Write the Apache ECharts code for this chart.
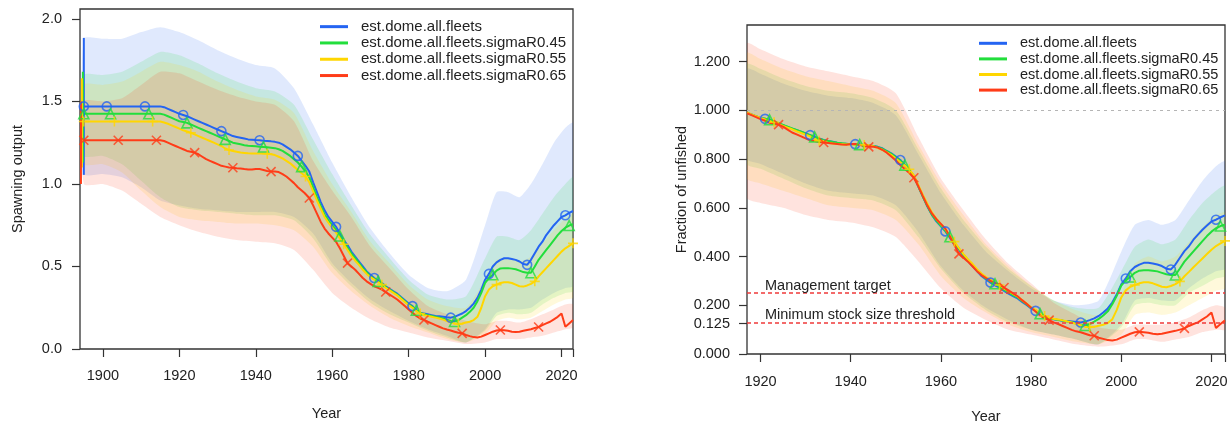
<!DOCTYPE html>
<html><head><meta charset="utf-8">
<script src="https://cdn.jsdelivr.net/npm/echarts@6/dist/echarts.min.js"></script>
<style>html,body{margin:0;padding:0;background:#fff}#c{width:1230px;height:423px}</style>
</head><body><div id="c"></div>
<script>
// ---------------- DATA ----------------
const modelNames = ['est.dome.all.fleets','est.dome.all.fleets.sigmaR0.45','est.dome.all.fleets.sigmaR0.55','est.dome.all.fleets.sigmaR0.65'];

const leftFirstYear = 1895, leftLastYear = 2023;
const rightFirstYear = 1917, rightLastYear = 2023;

// Spawning output, yearly 1895-2023
const ssbBlue = [1.47,1.47,1.47,1.47,1.47,1.47,1.47,1.47,1.47,1.47,
1.47,1.47,1.47,1.47,1.47,1.47,1.47,1.47,1.47,1.47,
1.47,1.465,1.455,1.445,1.435,1.425,1.418,1.41,1.40,1.39,
1.38,1.37,1.36,1.35,1.34,1.33,1.32,1.31,1.30,1.29,
1.285,1.28,1.275,1.27,1.268,1.266,1.265,1.262,1.26,1.258,
1.255,1.25,1.24,1.225,1.21,1.19,1.17,1.14,1.11,1.075,
1.01,0.95,0.89,0.84,0.80,0.77,0.74,0.70,0.66,0.63,
0.59,0.56,0.53,0.50,0.47,0.45,0.43,0.415,0.40,0.38,
0.365,0.35,0.335,0.315,0.295,0.275,0.26,0.235,0.22,0.215,
0.21,0.205,0.20,0.198,0.195,0.192,0.19,0.195,0.205,0.215,
0.23,0.25,0.275,0.31,0.36,0.42,0.455,0.50,0.525,0.54,
0.55,0.55,0.545,0.54,0.53,0.515,0.51,0.54,0.58,0.62,
0.65,0.69,0.72,0.75,0.775,0.80,0.81,0.825,0.836];
const ssbGreen = [1.425,1.425,1.425,1.425,1.425,1.425,1.425,1.425,1.425,1.425,
1.425,1.425,1.425,1.425,1.425,1.425,1.425,1.425,1.425,1.425,
1.425,1.42,1.41,1.40,1.39,1.38,1.375,1.37,1.36,1.35,
1.34,1.33,1.32,1.31,1.30,1.29,1.28,1.27,1.26,1.25,
1.245,1.24,1.235,1.232,1.23,1.228,1.226,1.224,1.222,1.22,
1.217,1.21,1.20,1.185,1.17,1.15,1.13,1.105,1.075,1.04,
0.98,0.92,0.865,0.815,0.78,0.75,0.72,0.685,0.65,0.615,
0.58,0.55,0.52,0.49,0.465,0.44,0.425,0.41,0.395,0.375,
0.36,0.345,0.33,0.31,0.29,0.27,0.255,0.235,0.22,0.21,
0.205,0.20,0.195,0.19,0.185,0.178,0.17,0.167,0.175,0.19,
0.205,0.225,0.25,0.29,0.34,0.40,0.43,0.45,0.475,0.488,
0.49,0.49,0.487,0.483,0.475,0.466,0.462,0.462,0.50,0.54,
0.57,0.60,0.63,0.66,0.69,0.715,0.735,0.748,0.757];
const ssbYellow = [1.378,1.378,1.378,1.378,1.378,1.378,1.378,1.378,1.378,1.378,
1.378,1.378,1.378,1.378,1.378,1.378,1.378,1.378,1.378,1.378,
1.378,1.372,1.365,1.355,1.345,1.335,1.325,1.318,1.31,1.30,
1.29,1.28,1.27,1.26,1.25,1.24,1.23,1.215,1.206,1.20,
1.195,1.19,1.188,1.186,1.185,1.185,1.185,1.185,1.183,1.18,
1.175,1.165,1.155,1.14,1.125,1.105,1.085,1.065,1.045,1.01,
0.955,0.90,0.85,0.80,0.765,0.735,0.705,0.67,0.635,0.60,
0.565,0.535,0.51,0.48,0.455,0.435,0.42,0.405,0.39,0.37,
0.355,0.34,0.325,0.305,0.285,0.265,0.25,0.23,0.215,0.205,
0.20,0.195,0.19,0.185,0.178,0.17,0.162,0.155,0.152,0.155,
0.16,0.165,0.175,0.195,0.25,0.32,0.36,0.38,0.39,0.40,
0.405,0.405,0.40,0.39,0.38,0.378,0.385,0.395,0.41,0.44,
0.465,0.49,0.515,0.54,0.565,0.59,0.61,0.625,0.64];
const ssbRed = [1.265,1.265,1.265,1.265,1.265,1.265,1.265,1.265,1.265,1.265,
1.265,1.265,1.265,1.265,1.265,1.265,1.265,1.265,1.265,1.265,
1.265,1.26,1.25,1.24,1.23,1.22,1.21,1.20,1.195,1.19,
1.18,1.165,1.15,1.14,1.13,1.12,1.11,1.105,1.10,1.098,
1.095,1.093,1.09,1.088,1.087,1.09,1.09,1.085,1.078,1.075,
1.075,1.072,1.06,1.045,1.025,1.005,0.98,0.96,0.94,0.915,
0.87,0.82,0.77,0.73,0.70,0.675,0.65,0.61,0.565,0.52,
0.50,0.48,0.455,0.43,0.41,0.395,0.38,0.37,0.36,0.345,
0.33,0.315,0.30,0.28,0.26,0.24,0.22,0.20,0.185,0.176,
0.165,0.155,0.145,0.135,0.125,0.118,0.112,0.105,0.098,0.095,
0.085,0.078,0.072,0.07,0.075,0.085,0.095,0.105,0.112,0.115,
0.113,0.11,0.105,0.103,0.105,0.11,0.115,0.12,0.127,0.133,
0.145,0.155,0.165,0.18,0.195,0.215,0.135,0.155,0.175];

// Virgin spawning output intervals (error bars at the start)
const b0Year = [1895, 1894.75, 1894.5, 1894.25];
const b0Lo = [1.055, 1.13, 1.10, 1.00];
const b0Hi = [1.885, 1.68, 1.64, 1.50];

// Spawning output 95% intervals
const leftBandYears = [1895,1900,1905,1910,1915,1920,1925,1930,1935,1940,1945,1950,1955,1960,1965,1970,1975,1980,1985,1990,1995,2000,2003,2006,2009,2012,2015,2018,2021,2023];
const ssbHiBlue   = [1.88,1.88,1.88,1.92,1.95,1.92,1.87,1.81,1.76,1.72,1.70,1.58,1.36,1.13,0.92,0.73,0.58,0.45,0.37,0.35,0.42,0.75,0.95,0.95,0.92,1.00,1.12,1.25,1.34,1.37];
const ssbHiGreen  = [1.66,1.66,1.68,1.74,1.80,1.78,1.73,1.67,1.62,1.58,1.56,1.48,1.27,1.06,0.87,0.69,0.55,0.42,0.33,0.30,0.32,0.55,0.68,0.68,0.66,0.72,0.82,0.92,1.00,1.04];
const ssbHiYellow = [1.60,1.60,1.62,1.68,1.74,1.72,1.68,1.62,1.57,1.53,1.51,1.43,1.20,1.00,0.83,0.65,0.52,0.39,0.30,0.26,0.25,0.42,0.54,0.55,0.53,0.56,0.64,0.72,0.79,0.82];
const ssbHiRed    = [1.50,1.50,1.52,1.60,1.68,1.67,1.62,1.57,1.53,1.50,1.48,1.38,1.14,0.96,0.80,0.62,0.49,0.36,0.26,0.21,0.17,0.15,0.17,0.17,0.16,0.18,0.21,0.24,0.27,0.27];
const ssbLoBlue   = [1.06,1.06,1.04,0.98,0.90,0.87,0.85,0.84,0.83,0.83,0.83,0.80,0.70,0.52,0.40,0.30,0.23,0.17,0.12,0.08,0.04,0.12,0.22,0.24,0.24,0.25,0.30,0.34,0.37,0.38];
const ssbLoGreen  = [1.17,1.17,1.12,1.02,0.92,0.86,0.84,0.83,0.82,0.81,0.81,0.78,0.67,0.50,0.38,0.28,0.21,0.16,0.11,0.07,0.04,0.11,0.20,0.22,0.21,0.22,0.27,0.31,0.34,0.35];
const ssbLoYellow = [1.12,1.12,1.07,0.96,0.86,0.80,0.78,0.77,0.76,0.76,0.75,0.72,0.62,0.46,0.35,0.26,0.19,0.14,0.10,0.06,0.04,0.09,0.17,0.19,0.18,0.19,0.23,0.27,0.30,0.31];
const ssbLoRed    = [1.00,1.00,0.96,0.88,0.80,0.75,0.71,0.68,0.66,0.65,0.64,0.60,0.48,0.34,0.25,0.18,0.13,0.10,0.07,0.05,0.03,0.04,0.06,0.06,0.06,0.07,0.08,0.10,0.12,0.13];

// Fraction of unfished, yearly 1917-2023
const fracBlue = [0.990,0.983,0.976,0.969,0.965,0.959,0.952,0.946,0.939,0.932,
0.925,0.918,0.912,0.905,0.898,0.891,0.884,0.878,0.874,0.871,
0.867,0.864,0.863,0.861,0.861,0.859,0.857,0.856,0.854,0.850,
0.844,0.833,0.823,0.810,0.796,0.776,0.755,0.731,0.687,0.646,
0.605,0.571,0.544,0.524,0.503,0.476,0.449,0.429,0.401,0.381,
0.361,0.340,0.320,0.306,0.293,0.282,0.272,0.259,0.248,0.238,
0.228,0.214,0.201,0.187,0.177,0.160,0.150,0.146,0.143,0.139,
0.136,0.135,0.133,0.131,0.129,0.133,0.139,0.146,0.156,0.170,
0.187,0.211,0.245,0.286,0.310,0.340,0.357,0.367,0.374,0.374,
0.371,0.367,0.361,0.350,0.347,0.367,0.395,0.422,0.442,0.469,
0.490,0.510,0.527,0.544,0.551,0.561,0.569];
const fracGreen = [0.989,0.982,0.975,0.968,0.965,0.961,0.954,0.947,0.940,0.933,
0.926,0.919,0.912,0.905,0.898,0.891,0.884,0.877,0.874,0.870,
0.867,0.865,0.863,0.862,0.860,0.859,0.858,0.856,0.854,0.849,
0.842,0.832,0.821,0.807,0.793,0.775,0.754,0.730,0.688,0.646,
0.607,0.572,0.547,0.526,0.505,0.481,0.456,0.432,0.407,0.386,
0.365,0.344,0.326,0.309,0.298,0.288,0.277,0.263,0.253,0.242,
0.232,0.218,0.204,0.189,0.179,0.165,0.154,0.147,0.144,0.140,
0.137,0.133,0.130,0.125,0.119,0.117,0.123,0.133,0.144,0.158,
0.175,0.204,0.239,0.281,0.302,0.316,0.333,0.342,0.344,0.344,
0.342,0.339,0.333,0.327,0.324,0.324,0.351,0.379,0.400,0.421,
0.442,0.463,0.484,0.502,0.516,0.525,0.531];
const fracYellow = [0.991,0.983,0.976,0.969,0.962,0.956,0.951,0.943,0.936,0.929,
0.922,0.914,0.907,0.900,0.893,0.882,0.875,0.871,0.867,0.864,
0.862,0.861,0.860,0.860,0.860,0.860,0.858,0.856,0.853,0.845,
0.838,0.827,0.816,0.802,0.787,0.773,0.758,0.733,0.693,0.653,
0.617,0.581,0.555,0.533,0.512,0.486,0.461,0.435,0.410,0.388,
0.370,0.348,0.330,0.316,0.305,0.294,0.283,0.269,0.258,0.247,
0.236,0.221,0.207,0.192,0.181,0.167,0.156,0.149,0.145,0.142,
0.138,0.134,0.129,0.123,0.118,0.112,0.110,0.112,0.116,0.120,
0.127,0.142,0.181,0.232,0.261,0.276,0.283,0.290,0.294,0.294,
0.290,0.283,0.276,0.274,0.279,0.287,0.298,0.319,0.337,0.356,
0.374,0.392,0.410,0.428,0.443,0.454,0.464];
const fracRed = [0.988,0.980,0.972,0.964,0.957,0.949,0.945,0.941,0.933,0.921,
0.909,0.901,0.893,0.885,0.877,0.874,0.870,0.868,0.866,0.864,
0.862,0.860,0.859,0.862,0.862,0.858,0.852,0.850,0.850,0.847,
0.838,0.826,0.810,0.794,0.775,0.759,0.743,0.723,0.688,0.648,
0.609,0.577,0.553,0.534,0.514,0.482,0.447,0.411,0.395,0.379,
0.360,0.340,0.324,0.312,0.300,0.292,0.285,0.273,0.261,0.249,
0.237,0.221,0.206,0.190,0.174,0.158,0.146,0.139,0.130,0.123,
0.115,0.107,0.099,0.093,0.089,0.083,0.077,0.075,0.067,0.062,
0.057,0.055,0.059,0.067,0.075,0.083,0.089,0.091,0.089,0.087,
0.083,0.081,0.083,0.087,0.091,0.095,0.100,0.105,0.115,0.123,
0.130,0.142,0.154,0.170,0.107,0.123,0.138];

// Fraction of unfished 95% intervals
const rightBandYears = [1917,1920,1925,1930,1935,1940,1945,1950,1955,1960,1965,1970,1975,1980,1985,1990,1995,2000,2003,2006,2009,2012,2015,2018,2021,2023];
const fracHiBlue   = [1.17,1.15,1.11,1.08,1.06,1.05,1.03,0.98,0.82,0.66,0.53,0.42,0.34,0.27,0.22,0.20,0.22,0.42,0.53,0.55,0.53,0.55,0.63,0.71,0.77,0.79];
const fracHiGreen  = [1.19,1.17,1.13,1.10,1.08,1.07,1.05,1.00,0.84,0.68,0.55,0.44,0.35,0.28,0.22,0.19,0.19,0.34,0.44,0.47,0.45,0.47,0.55,0.62,0.67,0.69];
const fracHiYellow = [1.235,1.21,1.17,1.14,1.12,1.10,1.08,1.03,0.86,0.70,0.57,0.45,0.36,0.28,0.22,0.18,0.16,0.25,0.37,0.40,0.38,0.40,0.46,0.52,0.57,0.58];
const fracHiRed    = [1.275,1.25,1.21,1.18,1.16,1.14,1.12,1.07,0.89,0.72,0.59,0.47,0.37,0.29,0.21,0.16,0.11,0.10,0.12,0.12,0.12,0.13,0.15,0.18,0.20,0.19];
const fracLoBlue   = [0.80,0.78,0.74,0.70,0.67,0.66,0.65,0.61,0.50,0.36,0.26,0.19,0.14,0.10,0.08,0.06,0.04,0.12,0.22,0.23,0.22,0.22,0.27,0.31,0.34,0.35];
const fracLoGreen  = [0.78,0.76,0.72,0.68,0.65,0.64,0.63,0.59,0.48,0.35,0.25,0.18,0.13,0.10,0.08,0.06,0.04,0.11,0.20,0.21,0.20,0.20,0.25,0.28,0.31,0.32];
const fracLoYellow = [0.72,0.70,0.67,0.64,0.61,0.60,0.59,0.55,0.45,0.32,0.23,0.17,0.12,0.09,0.07,0.05,0.04,0.08,0.16,0.17,0.16,0.17,0.20,0.23,0.26,0.27];
const fracLoRed    = [0.64,0.62,0.60,0.57,0.55,0.54,0.52,0.48,0.38,0.27,0.19,0.14,0.10,0.08,0.06,0.04,0.03,0.04,0.06,0.06,0.05,0.06,0.07,0.09,0.10,0.10];

// Reference levels (right panel)
const refLevels = [0.25, 0.125];
const refLabels = ['Management target', 'Minimum stock size threshold'];
const unfishedLevel = 1.0;

// Tick labels
const leftXTicks = [1900,1920,1940,1960,1980,2000,2020];
const leftYTicks = [0, 0.5, 1.0, 1.5, 2.0];
const rightXTicks = [1920,1940,1960,1980,2000,2020];
const rightYTicks = [0, 0.125, 0.2, 0.4, 0.6, 0.8, 1.0, 1.2];

// ---------------- STYLE ----------------
const colors = ['#2464f2','#22de3c','#ffd600','#ff3c18'];
const bandAlpha = 0.14;
const markerFirstYear = [1901, 1902, 1903, 1904];
const markerSymbols = ['circle','triangle','path://M5,0L5,10M0,5L10,5','path://M0,0L10,10M10,0L0,10'];
const markerSizes = [9, 10, 10, 9];
const FONT = "Liberation Sans, Arial, Helvetica, sans-serif";
const TXT = '#222';
const FS = 14.5;

function yearsRange(a, b) { const r = []; for (let y = a; y <= b; y++) r.push(y); return r; }
const leftYears = yearsRange(leftFirstYear, leftLastYear);
const rightYears = yearsRange(rightFirstYear, rightLastYear);
function pairs(xs, ys) { return xs.map((x, i) => [x, ys[i]]); }
function rgba(hex, a) {
  const n = parseInt(hex.slice(1), 16);
  return `rgba(${(n >> 16) & 255},${(n >> 8) & 255},${n & 255},${a})`;
}

const ssb = [ssbBlue, ssbGreen, ssbYellow, ssbRed];
const ssbHi = [ssbHiBlue, ssbHiGreen, ssbHiYellow, ssbHiRed];
const ssbLo = [ssbLoBlue, ssbLoGreen, ssbLoYellow, ssbLoRed];
const frac = [fracBlue, fracGreen, fracYellow, fracRed];
const fracHi = [fracHiBlue, fracHiGreen, fracHiYellow, fracHiRed];
const fracLo = [fracLoBlue, fracLoGreen, fracLoYellow, fracLoRed];

const series = [];
function addBands(axis, xs, lo, hi) {
  for (let k = 0; k < 4; k++) {
    const up = hi[k], dn = lo[k];
    series.push({
      type: 'custom', name: 'band' + axis + k, xAxisIndex: axis, yAxisIndex: axis,
      silent: true, clip: true, z: 1,
      data: [[xs[0], dn[0]]],
      renderItem: function (params, api) {
        const cs = params.coordSys;
        const top = xs.map((x, i) => api.coord([x, up[i]]));
        const bot = xs.map((x, i) => api.coord([x, dn[i]])).reverse();
        return { type: 'polygon', shape: { points: top.concat(bot), smooth: 0.2 },
                 style: { fill: rgba(colors[k], bandAlpha) },
                 clipPath: { type: 'rect', shape: { x: cs.x, y: cs.y, width: cs.width, height: cs.height } } };
      }
    });
  }
}
function addLines(axis, xs, vals) {
  for (let k = 0; k < 4; k++) {
    series.push({
      type: 'line', name: modelNames[k], xAxisIndex: axis, yAxisIndex: axis,
      data: pairs(xs, vals[k]), symbol: 'none', showSymbol: false, silent: true, z: 3,
      color: colors[k], lineStyle: { width: 2, color: colors[k] }
    });
  }
}
function addMarkers(axis, xs, vals, includeFirst) {
  for (let k = 0; k < 4; k++) {
    const d = pairs(xs, vals[k]).filter(([y], i) => (includeFirst && i === 0) || (y - markerFirstYear[k]) % 10 === 0);
    series.push({
      type: 'scatter', name: modelNames[k] + ' pts', xAxisIndex: axis, yAxisIndex: axis,
      data: d, symbol: markerSymbols[k], symbolSize: markerSizes[k], silent: true, z: 4,
      itemStyle: { color: 'rgba(0,0,0,0)', borderColor: colors[k], borderWidth: 1.6 }
    });
  }
}

// Left panel
addBands(0, leftBandYears, ssbLo, ssbHi);
addLines(0, leftYears, ssb);
for (let k = 0; k < 4; k++) {
  series.push({
    type: 'line', name: 'b0' + k, xAxisIndex: 0, yAxisIndex: 0, z: 3,
    data: [[b0Year[k], b0Lo[k]], [b0Year[k], b0Hi[k]]], symbol: 'none', silent: true,
    lineStyle: { width: 2, color: colors[k] }
  });
}
addMarkers(0, leftYears, ssb, true);

// Right panel
addBands(1, rightBandYears, fracLo, fracHi);
series.push({
  type: 'line', name: 'refs', xAxisIndex: 1, yAxisIndex: 1, data: [], silent: true, z: 2,
  markLine: {
    symbol: 'none', silent: true, animation: false,
    data: [
      { yAxis: unfishedLevel, lineStyle: { color: '#b5b5b5', type: [3, 4], width: 1.2 }, label: { show: false } },
      { yAxis: refLevels[0], label: { formatter: refLabels[0] } },
      { yAxis: refLevels[1], label: { formatter: refLabels[1] } }
    ],
    lineStyle: { color: '#f03a3a', type: [4, 3], width: 1.6 },
    label: { show: true, position: 'insideStartTop', distance: [18, 0], color: TXT, fontSize: FS, fontFamily: FONT }
  }
});
addLines(1, rightYears, frac);
addMarkers(1, rightYears, frac, false);

const tickStyle = { show: true, length: 8, lineStyle: { color: '#333', width: 1.2 } };
const nameStyle = { fontSize: FS, color: TXT, fontFamily: FONT };

const option = {
  animation: false,
  backgroundColor: '#fff',
  textStyle: { fontFamily: FONT, color: TXT },
  grid: [
    { left: 80, top: 9, width: 493, height: 340, show: true, borderColor: '#333', borderWidth: 1.3,
      backgroundColor: 'rgba(0,0,0,0)', containLabel: false, outerBoundsMode: 'none' },
    { left: 747, top: 25, width: 478, height: 329, show: true, borderColor: '#333', borderWidth: 1.3,
      backgroundColor: 'rgba(0,0,0,0)', containLabel: false, outerBoundsMode: 'none' }
  ],
  xAxis: [
    { type: 'value', gridIndex: 0, min: 1894, max: 2023, splitLine: { show: false }, axisLine: { show: false },
      axisTick: Object.assign({ customValues: leftXTicks.concat([2023]) }, tickStyle),
      axisLabel: { customValues: leftXTicks, fontSize: FS, color: TXT, margin: 19, fontFamily: FONT, formatter: v => String(v) },
      name: 'Year', nameLocation: 'middle', nameGap: 57, nameTextStyle: nameStyle },
    { type: 'value', gridIndex: 1, min: 1917, max: 2023, splitLine: { show: false }, axisLine: { show: false },
      axisTick: Object.assign({ customValues: rightXTicks.concat([2023]) }, tickStyle),
      axisLabel: { customValues: rightXTicks, fontSize: FS, color: TXT, margin: 20, fontFamily: FONT, formatter: v => String(v) },
      name: 'Year', nameLocation: 'middle', nameGap: 55, nameTextStyle: nameStyle }
  ],
  yAxis: [
    { type: 'value', gridIndex: 0, min: 0, max: 2.06, splitLine: { show: false }, axisLine: { show: false },
      axisTick: Object.assign({ customValues: leftYTicks }, tickStyle),
      axisLabel: { customValues: leftYTicks, fontSize: FS, color: TXT, margin: 18, fontFamily: FONT, formatter: v => v.toFixed(1) },
      name: 'Spawning output', nameLocation: 'middle', nameGap: 55, nameTextStyle: nameStyle },
    { type: 'value', gridIndex: 1, min: 0, max: 1.35, splitLine: { show: false }, axisLine: { show: false },
      axisTick: Object.assign({ customValues: rightYTicks }, tickStyle),
      axisLabel: { customValues: rightYTicks, fontSize: FS, color: TXT, margin: 17, fontFamily: FONT, formatter: v => v.toFixed(3) },
      name: 'Fraction of unfished', nameLocation: 'middle', nameGap: 53, nameTextStyle: nameStyle }
  ],
  legend: [
    { left: 320, top: 18.5, padding: 0, orient: 'vertical', itemWidth: 28, itemHeight: 3, itemGap: 0, icon: 'rect', selectedMode: false,
      data: modelNames, textStyle: { fontSize: 15, color: TXT, lineHeight: 16.3, padding: [0, 0, 0, 8], fontFamily: FONT } },
    { left: 979, top: 35.5, padding: 0, orient: 'vertical', itemWidth: 28, itemHeight: 3, itemGap: 0, icon: 'rect', selectedMode: false,
      data: modelNames, textStyle: { fontSize: 14.5, color: TXT, lineHeight: 15.6, padding: [0, 0, 0, 8], fontFamily: FONT } }
  ],
  series: series
};

const chart = echarts.init(document.getElementById('c'), null, { renderer: 'canvas' });
chart.setOption(option);
</script>
</body></html>
